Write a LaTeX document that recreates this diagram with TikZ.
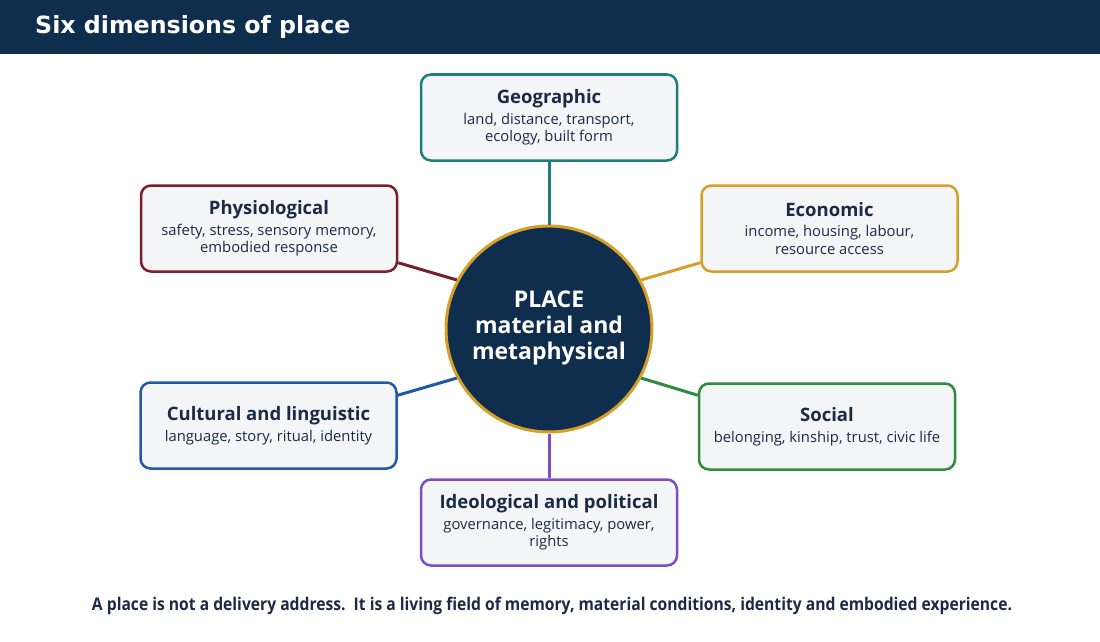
\documentclass[tikz,border=0pt]{standalone}
\usepackage{fontspec}
\setmainfont{Open Sans}
\newfontfamily\titlefont{DejaVu Sans}
\usetikzlibrary{calc}
\definecolor{navy}{HTML}{0F2E4E}
\definecolor{txt}{HTML}{1A2B45}
\definecolor{cteal}{HTML}{1E7F78}
\definecolor{cred}{HTML}{7B1E2B}
\definecolor{cgold}{HTML}{D4A02A}
\definecolor{cblue}{HTML}{2159A8}
\definecolor{cgreen}{HTML}{2E8B3F}
\definecolor{cpurple}{HTML}{7B4FBF}
\definecolor{boxfill}{HTML}{F3F5F7}
\newcommand{\boxhead}[1]{{\bfseries\fontsize{18.5}{23}\selectfont #1}}
\begin{document}
\begin{tikzpicture}[x=1pt,y=1pt,
  dimbox/.style={draw=#1, line width=2.5pt, rounded corners=10pt, fill=boxfill,
    minimum width=256pt, minimum height=86pt, align=center, text=txt, inner sep=2pt,
    font=\fontsize{14.8}{17.5}\selectfont},
  conn/.style={draw=#1, line width=3pt},
]
\useasboundingbox (0,0) rectangle (1100,-642);
\fill[white] (0,0) rectangle (1100,-642);
\fill[navy] (0,0) rectangle (1100,-54);
\node[anchor=west, text=white, inner sep=0pt] (title) at (35,-27)
  {\titlefont\bfseries\fontsize{23.7}{28}\selectfont Six dimensions of place};

\node[dimbox=cteal] (geo) at (549,-117.5) {\boxhead{Geographic}\\[3pt]land, distance, transport,\\ecology, built form};
\node[dimbox=cred] (phys) at (269,-228.5) {\boxhead{Physiological}\\[3pt]safety, stress, sensory memory,\\embodied response};
\node[dimbox=cgold] (eco) at (829.5,-228.5) {\boxhead{Economic}\\[3pt]income, housing, labour,\\resource access};
\node[dimbox=cblue] (cult) at (268.5,-425.5) {\boxhead{Cultural and linguistic}\\[3pt]language, story, ritual, identity};
\node[dimbox=cgreen] (soc) at (827,-426.5) {\boxhead{Social}\\[3pt]belonging, kinship, trust, civic life};
\node[dimbox=cpurple] (ideo) at (549,-522.5) {\boxhead{Ideological and political}\\[3pt]governance, legitimacy, power,\\rights};

\node[circle, fill=navy, draw=cgold, line width=3pt, minimum size=206pt, inner sep=0pt,
  text=white, align=center, font=\bfseries\fontsize{23}{26}\selectfont] (place) at (549,-329)
  {PLACE\\material and\\metaphysical\\[-19pt]\mbox{}};

\draw[conn=cteal] (geo.south) -- (place.north);
\draw[conn=cpurple] (place.south) -- (ideo.north);
\draw[conn=cred] ($(phys.south east)+(0,10)$) -- (place.152);
\draw[conn=cgold] ($(eco.south west)+(0,10)$) -- (place.28);
\draw[conn=cblue] ($(cult.north east)+(0,-14)$) -- (place.208);
\draw[conn=cgreen] ($(soc.north west)+(0,-13)$) -- (place.332);

\node[text=txt, inner sep=0pt] (foot) at (552,-606)
  {\resizebox{920pt}{\height}{\bfseries\fontsize{17.5}{20}\selectfont A place is not a delivery address.\ \ It is a living field of memory, material conditions,\ identity and embodied experience.}};
\end{tikzpicture}
\end{document}
